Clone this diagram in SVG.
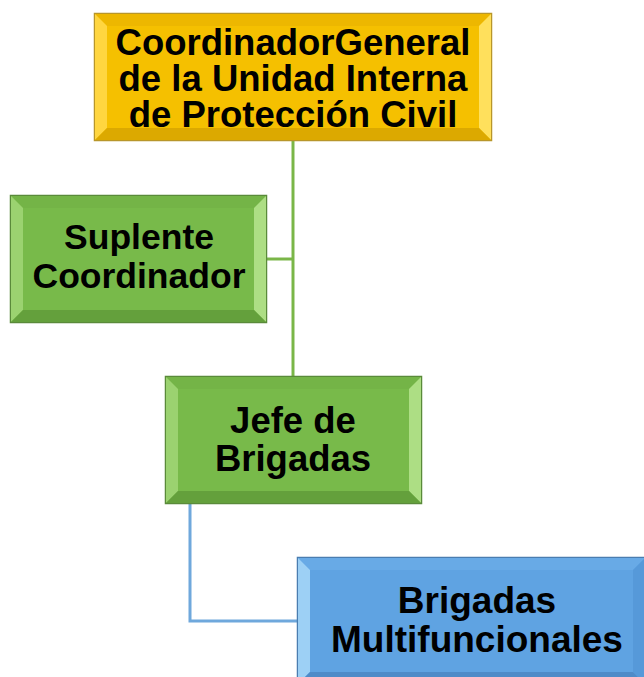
<svg xmlns="http://www.w3.org/2000/svg" width="644" height="677" viewBox="0 0 644 677">
<defs>
<style>
text{font-family:"Liberation Sans",Arial,sans-serif;font-weight:bold;fill:#000;text-anchor:middle}
.gold .base{fill:#F5C000;stroke:#B8962A;stroke-width:1.5}
.gold .t{fill:#EDB700}.gold .l{fill:#FFD640}.gold .r{fill:#FFE05C}.gold .b{fill:#DCA900}
.green .base{fill:#78BA4A;stroke:#5A8A3A;stroke-width:1.5}
.green .t{fill:#74B447}.green .l{fill:#9BD270}.green .r{fill:#ADDE84}.green .b{fill:#64A03C}
.blue .base{fill:#5FA3E2;stroke:#4A7DB0;stroke-width:1.5}
.blue .t{fill:#68AAE6}.blue .l{fill:#9DD0F5}.blue .r{fill:#5699D9}.blue .b{fill:#4F8BC8}
.cg{fill:none;stroke:#7AB648;stroke-width:3}
.cb{fill:none;stroke:#6FA8DC;stroke-width:3}
</style>
</defs>
<g id="connectors">
<path class="cg" d="M293 140 V376"/>
<path class="cg" d="M266 259 H293"/>
<path class="cb" d="M190 503 V621 H297"/>
</g>
<g id="n1" class="gold">
<rect class="base" x="94.5" y="13.5" width="397" height="127"/>
<polygon class="t" points="95,14 491,14 479,26 107,26"/>
<polygon class="l" points="95,14 107,26 107,128 95,140"/>
<polygon class="r" points="491,14 491,140 479,128 479,26"/>
<polygon class="b" points="95,140 107,128 479,128 491,140"/>
<rect x="107" y="26" width="372" height="102" fill="#F5C000"/>
<text font-size="36.5"><tspan x="293" y="55">CoordinadorGeneral</tspan><tspan x="293" y="91">de la Unidad Interna</tspan><tspan x="293" y="127">de Protección Civil</tspan></text>
</g>
<g id="n2" class="green">
<rect class="base" x="10.5" y="195.5" width="256" height="127"/>
<polygon class="t" points="11,196 266,196 254,208 23,208"/>
<polygon class="l" points="11,196 23,208 23,310 11,322"/>
<polygon class="r" points="266,196 266,322 254,310 254,208"/>
<polygon class="b" points="11,322 23,310 254,310 266,322"/>
<rect x="23" y="208" width="231" height="102" fill="#78BA4A"/>
<text font-size="35.5"><tspan x="139" y="249">Suplente</tspan><tspan x="139" y="288">Coordinador</tspan></text>
</g>
<g id="n3" class="green">
<rect class="base" x="165.5" y="376.5" width="256" height="127"/>
<polygon class="t" points="166,377 421,377 409,389 178,389"/>
<polygon class="l" points="166,377 178,389 178,491 166,503"/>
<polygon class="r" points="421,377 421,503 409,491 409,389"/>
<polygon class="b" points="166,503 178,491 409,491 421,503"/>
<rect x="178" y="389" width="231" height="102" fill="#78BA4A"/>
<text font-size="36.5"><tspan x="293" y="433">Jefe de</tspan><tspan x="293" y="471">Brigadas</tspan></text>
</g>
<g id="n4" class="blue">
<rect class="base" x="297.5" y="557.5" width="348" height="127"/>
<polygon class="t" points="298,558 645,558 633,570 310,570"/>
<polygon class="l" points="298,558 310,570 310,672 298,684"/>
<polygon class="r" points="645,558 645,684 633,672 633,570"/>
<polygon class="b" points="298,684 310,672 633,672 645,684"/>
<rect x="310" y="570" width="323" height="102" fill="#5FA3E2"/>
<text font-size="37"><tspan x="477" y="613">Brigadas</tspan><tspan x="477" y="652">Multifuncionales</tspan></text>
</g>
</svg>
